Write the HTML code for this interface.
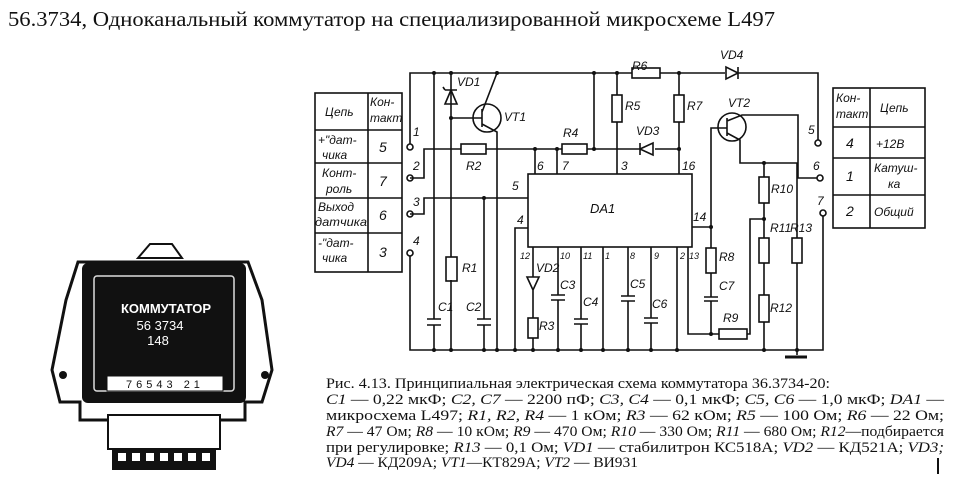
<!DOCTYPE html>
<html><head><meta charset="utf-8"><style>
html,body{margin:0;padding:0;background:#fff;width:960px;height:500px;overflow:hidden}
svg{display:block}
.s{fill:none;stroke:#111;stroke-width:1.6}
.t{font-family:"Liberation Serif",serif;font-size:14.5px;fill:#111}
.l{font-family:"Liberation Sans",sans-serif;font-style:italic;font-size:12px;fill:#111}
</style></head><body>
<svg width="960" height="500" viewBox="0 0 960 500" xmlns="http://www.w3.org/2000/svg">
<text x="8" y="26" font-family="Liberation Serif,serif" font-size="21" fill="#111" textLength="767" lengthAdjust="spacingAndGlyphs">56.3734, Одноканальный коммутатор на специализированной микросхеме L497</text>

<!-- device -->
<g>
<path d="M138 258 L150 244 L172 244 L182 258 Z" fill="#fff" stroke="#111" stroke-width="2"/>
<path d="M78 262 L248 262 L262 300 L272 370 L262 402 L245 402 L245 420 L80 420 L80 402 L60 402 L52 370 L66 300 Z" fill="#fff" stroke="#111" stroke-width="3"/>
<rect x="82" y="263" width="164" height="140" rx="6" fill="#111"/>
<rect x="94" y="276" width="140" height="115" rx="3" fill="none" stroke="#ddd" stroke-width="1.5"/>
<text x="166" y="313" text-anchor="middle" font-family="Liberation Sans,sans-serif" font-size="13" font-weight="bold" fill="#fff">КОММУТАТОР</text>
<text x="160" y="330" text-anchor="middle" font-family="Liberation Sans,sans-serif" font-size="13" fill="#fff">56 3734</text>
<text x="158" y="345" text-anchor="middle" font-family="Liberation Sans,sans-serif" font-size="13" fill="#fff">148</text>
<rect x="107" y="376" width="116" height="15" fill="#fff" stroke="#111"/>
<text x="165" y="388" text-anchor="middle" font-family="Liberation Sans,sans-serif" font-size="11" fill="#111" letter-spacing="4">76543 21</text>
<circle cx="63" cy="375" r="4" fill="#111"/><circle cx="265" cy="375" r="4" fill="#111"/>
<rect x="108" y="415" width="112" height="34" fill="#fff" stroke="#111" stroke-width="2"/>
<rect x="112" y="448" width="104" height="22" fill="#111"/>
<g fill="#fff"><rect x="118" y="453" width="8" height="8"/><rect x="132" y="453" width="8" height="8"/><rect x="146" y="453" width="8" height="8"/><rect x="160" y="453" width="8" height="8"/><rect x="174" y="453" width="8" height="8"/><rect x="188" y="453" width="8" height="8"/><rect x="202" y="453" width="8" height="8"/></g>
</g>

<!-- left table -->
<g class="s">
<rect x="315" y="93" width="87" height="179"/>
<line x1="368" y1="93" x2="368" y2="272"/>
<line x1="315" y1="130" x2="402" y2="130"/><line x1="315" y1="163" x2="402" y2="163"/>
<line x1="315" y1="198" x2="402" y2="198"/><line x1="315" y1="233" x2="402" y2="233"/>
</g>
<g class="l">
<text x="325" y="116">Цепь</text><text x="370" y="106">Кон-</text><text x="370" y="122">такт</text>
<text x="318" y="144">+"дат-</text><text x="322" y="159">чика</text><text x="379" y="152" font-size="14">5</text>
<text x="322" y="177">Конт-</text><text x="326" y="193">роль</text><text x="379" y="186" font-size="14">7</text>
<text x="318" y="211">Выход</text><text x="315" y="226" textLength="52" lengthAdjust="spacingAndGlyphs">датчика</text><text x="379" y="220" font-size="14">6</text>
<text x="318" y="247">-"дат-</text><text x="322" y="262">чика</text><text x="379" y="257" font-size="14">3</text>
</g>
<!-- right table -->
<g class="s">
<rect x="833" y="88" width="92" height="140"/>
<line x1="870" y1="88" x2="870" y2="228"/>
<line x1="833" y1="127" x2="925" y2="127"/><line x1="833" y1="158" x2="925" y2="158"/><line x1="833" y1="195" x2="925" y2="195"/>
</g>
<g class="l">
<text x="836" y="102">Кон-</text><text x="836" y="118">такт</text><text x="880" y="112">Цепь</text>
<text x="846" y="148" font-size="14">4</text><text x="876" y="148">+12В</text>
<text x="846" y="181" font-size="14">1</text><text x="874" y="172">Катуш-</text><text x="888" y="188">ка</text>
<text x="846" y="216" font-size="14">2</text><text x="874" y="216">Общий</text>
</g>

<!-- schematic wires -->
<g class="s">
<circle cx="410" cy="147" r="3" fill="#fff"/><circle cx="410" cy="178" r="3" fill="#fff"/><circle cx="410" cy="214" r="3" fill="#fff"/><circle cx="410" cy="253" r="3" fill="#fff"/>
<circle cx="818" cy="143" r="3" fill="#fff"/><circle cx="820" cy="178" r="3" fill="#fff"/><circle cx="823" cy="213" r="3" fill="#fff"/>
<path d="M410 144 V73 H632 M660 73 H725 M738 73 H818 V140"/>
<rect x="632" y="68" width="28" height="10"/>
<path d="M738 67 V79 M738 73 L726 67 V79 Z"/>
<path d="M410 256 V350 H823 V216"/>
<path d="M451 73 V257 M451 280 V350"/>
<path d="M445 90 H457 M451 90 L445 104 H457 Z M445 90 L443 87"/>
<rect x="446" y="257" width="11" height="24"/>
<circle cx="487" cy="118" r="14"/>
<path d="M451 118 H482 M482 109 V127 M482 112 L497 73 M482 124 L497 132 V350"/>
<path d="M434 73 V319 M427 319 H441 M427 325 H441 M434 325 V350"/>
<path d="M410 178 H424 V149 H461 M486 149 H562 M587 149 H640 M655 149 H680"/>
<rect x="461" y="144" width="25" height="10"/><rect x="562" y="144" width="25" height="10"/>
<path d="M640 143 V155 M640 149 L653 143 V155 Z"/>
<path d="M535 149 V174 M557 149 V174 M594 73 V149 M617 73 V95 M617 122 V174 M679 73 V95 M679 122 V174"/>
<rect x="612" y="95" width="10" height="27"/><rect x="674" y="95" width="10" height="27"/>
<path d="M410 214 H424 V198 H528 M484 198 V319 M477 319 H491 M477 325 H491 M484 325 V350"/>
<rect x="528" y="174" width="164" height="73"/>
<path d="M528 228 H515 V350"/>
<path d="M533 247 V277 M527 277 H539 M533 290 L527 277 H539 Z M533 290 V318 M533 338 V350"/>
<rect x="528" y="318" width="10" height="20"/>
<path d="M558 247 V295 M551 295 H565 M551 300 H565 M558 300 V350"/>
<path d="M581 247 V319 M574 319 H588 M574 324 H588 M581 324 V350"/>
<path d="M603 247 V350"/>
<path d="M628 247 V296 M621 296 H635 M621 301 H635 M628 301 V350"/>
<path d="M651 247 V318 M644 318 H658 M644 323 H658 M651 323 V350"/>
<path d="M677 247 V350"/>
<path d="M688 247 V334 H719 M747 334 H750 V219 H764"/>
<rect x="719" y="329" width="28" height="10"/>
<path d="M692 227 H711 V248 M711 273 V297 M704 297 H718 M704 301 H718 M711 301 V334 M711 227 V128 H718"/>
<rect x="706" y="248" width="10" height="25"/>
<circle cx="732" cy="127" r="14"/>
<path d="M718 128 H727 M727 118 V136 M727 121 L742 115 H798 V178 H817 M727 133 L740 140 V163 H797 V238 M764 163 V177 M764 203 V238 M764 263 V295 M764 322 V350 M797 263 V355"/>
<rect x="759" y="177" width="10" height="26"/><rect x="759" y="238" width="10" height="25"/><rect x="759" y="295" width="10" height="27"/><rect x="792" y="238" width="10" height="25"/>
<path d="M785 357 H807" stroke-width="3"/>
</g>
<g fill="#111">
<circle cx="434" cy="73" r="2"/><circle cx="451" cy="73" r="2"/><circle cx="497" cy="73" r="2"/><circle cx="594" cy="73" r="2"/><circle cx="617" cy="73" r="2"/><circle cx="679" cy="73" r="2"/>
<circle cx="451" cy="118" r="2"/><circle cx="535" cy="149" r="2"/><circle cx="557" cy="149" r="2"/><circle cx="594" cy="149" r="2"/><circle cx="679" cy="149" r="2"/>
<circle cx="484" cy="198" r="2"/><circle cx="711" cy="227" r="2"/><circle cx="711" cy="334" r="2"/><circle cx="764" cy="163" r="2"/><circle cx="764" cy="219" r="2"/>
<circle cx="434" cy="350" r="2"/><circle cx="451" cy="350" r="2"/><circle cx="484" cy="350" r="2"/><circle cx="497" cy="350" r="2"/><circle cx="515" cy="350" r="2"/><circle cx="533" cy="350" r="2"/><circle cx="558" cy="350" r="2"/><circle cx="581" cy="350" r="2"/><circle cx="603" cy="350" r="2"/><circle cx="628" cy="350" r="2"/><circle cx="651" cy="350" r="2"/><circle cx="677" cy="350" r="2"/><circle cx="764" cy="350" r="2"/><circle cx="797" cy="350" r="2"/>
</g>
<g class="l" font-size="11">
<text x="413" y="136">1</text><text x="413" y="170">2</text><text x="413" y="206">3</text><text x="413" y="245">4</text>
<text x="808" y="134">5</text><text x="813" y="170">6</text><text x="817" y="205">7</text>
<text x="457" y="86">VD1</text><text x="504" y="121">VT1</text><text x="466" y="170">R2</text><text x="563" y="137">R4</text>
<text x="625" y="110">R5</text><text x="687" y="110">R7</text><text x="632" y="70">R6</text><text x="720" y="59">VD4</text><text x="636" y="135">VD3</text><text x="728" y="107">VT2</text>
<text x="512" y="190">5</text><text x="537" y="170">6</text><text x="562" y="170">7</text><text x="621" y="170">3</text><text x="682" y="170">16</text><text x="517" y="224">4</text><text x="693" y="221">14</text>
<text x="590" y="213" font-size="13">DA1</text>
<text x="520" y="259" font-size="9">12</text><text x="560" y="259" font-size="9">10</text><text x="583" y="259" font-size="9">11</text><text x="605" y="259" font-size="9">1</text><text x="630" y="259" font-size="9">8</text><text x="654" y="259" font-size="9">9</text><text x="680" y="259" font-size="9">2</text><text x="689" y="259" font-size="9">13</text>
<text x="462" y="272">R1</text><text x="438" y="311">C1</text><text x="466" y="311">C2</text><text x="536" y="272">VD2</text><text x="560" y="289">C3</text><text x="583" y="306">C4</text><text x="630" y="288">C5</text><text x="652" y="308">C6</text><text x="539" y="330">R3</text>
<text x="719" y="261">R8</text><text x="719" y="290">C7</text><text x="723" y="322">R9</text><text x="771" y="193">R10</text><text x="770" y="232">R11</text><text x="790" y="232">R13</text><text x="770" y="312">R12</text>
</g>

<!-- caption -->
<g class="t">
<text x="326" y="388" textLength="504" lengthAdjust="spacingAndGlyphs">Рис. 4.13. Принципиальная электрическая схема коммутатора 36.3734-20:</text>
<text x="326" y="404" textLength="618" lengthAdjust="spacingAndGlyphs"><tspan font-style="italic">C1</tspan> — 0,22 мкФ; <tspan font-style="italic">C2, C7</tspan> — 2200 пФ; <tspan font-style="italic">C3, C4</tspan> — 0,1 мкФ; <tspan font-style="italic">C5, C6</tspan> — 1,0 мкФ; <tspan font-style="italic">DA1</tspan> —</text>
<text x="326" y="420" textLength="618" lengthAdjust="spacingAndGlyphs">микросхема L497; <tspan font-style="italic">R1, R2, R4</tspan> — 1 кОм; <tspan font-style="italic">R3</tspan> — 62 кОм; <tspan font-style="italic">R5</tspan> — 100 Ом; <tspan font-style="italic">R6</tspan> — 22 Ом;</text>
<text x="326" y="436" textLength="618" lengthAdjust="spacingAndGlyphs"><tspan font-style="italic">R7</tspan> — 47 Ом; <tspan font-style="italic">R8</tspan> — 10 кОм; <tspan font-style="italic">R9</tspan> — 470 Ом; <tspan font-style="italic">R10</tspan> — 330 Ом; <tspan font-style="italic">R11</tspan> — 680 Ом; <tspan font-style="italic">R12</tspan>—подбирается</text>
<text x="326" y="452" textLength="618" lengthAdjust="spacingAndGlyphs">при регулировке; <tspan font-style="italic">R13</tspan> — 0,1 Ом; <tspan font-style="italic">VD1</tspan> — стабилитрон КС518А; <tspan font-style="italic">VD2</tspan> — КД521А; <tspan font-style="italic">VD3;</tspan></text>
<text x="326" y="467" textLength="312" lengthAdjust="spacingAndGlyphs"><tspan font-style="italic">VD4</tspan> — КД209А; <tspan font-style="italic">VT1</tspan>—КТ829А; <tspan font-style="italic">VT2</tspan> — ВИ931</text>
</g>
<line x1="938" y1="458" x2="938" y2="474" stroke="#111" stroke-width="2"/>
</svg>
</body></html>
